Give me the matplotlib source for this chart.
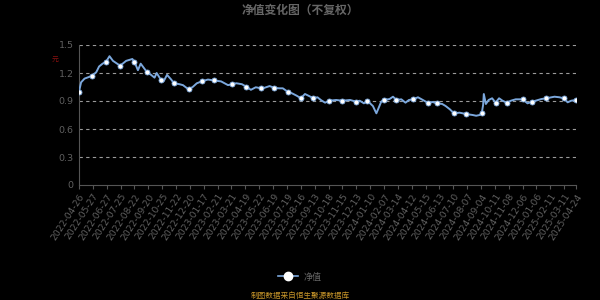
import matplotlib
matplotlib.use("Agg")
import matplotlib.pyplot as plt
from matplotlib.lines import Line2D

plt.rcParams['font.family'] = ['Noto Sans CJK SC', 'DejaVu Sans']

title = "净值变化图（不复权）"
unit_label = "元"
legend_label = "净值"
source_text = "制图数据来自恒生聚源数据库"

tick_labels = [
    "2022-04-26", "2022-05-27", "2022-06-27", "2022-07-25", "2022-08-22", "2022-09-20",
    "2022-10-25", "2022-11-22", "2022-12-20", "2023-01-17", "2023-02-21", "2023-03-21",
    "2023-04-19", "2023-05-22", "2023-06-19", "2023-07-19", "2023-08-16", "2023-09-13",
    "2023-10-18", "2023-11-15", "2023-12-13", "2024-01-10", "2024-02-07", "2024-03-14",
    "2024-04-12", "2024-05-15", "2024-06-13", "2024-07-10", "2024-08-07", "2024-09-04",
    "2024-10-11", "2024-11-08", "2024-12-06", "2025-01-06", "2025-02-11", "2025-03-11",
    "2025-04-24",
]
# trading-day index of each tick label
tick_days = [0, 20, 40, 60, 80, 100, 120, 140, 160, 180, 200, 220, 240, 260, 280, 300,
             320, 340, 360, 380, 400, 420, 440, 460, 480, 500, 520, 540, 560, 580, 600,
             620, 640, 660, 680, 700, 717]

# sampled NAV readings (trading-day index, value)
days = [0, 3, 8, 19, 25, 29, 34, 39, 44, 49, 53, 59, 63, 68, 77, 80, 85, 89, 94, 98,
        104, 109, 112, 118, 122, 127, 133, 137, 145, 150, 158, 164, 170, 177, 186, 195,
        205, 215, 221, 227, 235, 241, 248, 255, 263, 267, 275, 282, 289, 294, 301, 308,
        314, 320, 326, 332, 338, 344, 349, 355, 361, 371, 380, 391, 400, 405, 411, 416,
        424, 429, 432, 436, 440, 448, 453, 458, 465, 471, 476, 482, 489, 496, 503, 510,
        517, 524, 529, 535, 541, 549, 558, 568, 573, 578, 581, 583, 584, 587, 591, 596,
        601, 606, 611, 617, 623, 630, 640, 647, 654, 667, 674, 686, 693, 699, 705, 710,
        717]
nav = [1.00, 1.10, 1.14, 1.17, 1.21, 1.27, 1.30, 1.32, 1.38, 1.33, 1.31, 1.28, 1.30,
       1.33, 1.35, 1.32, 1.23, 1.30, 1.25, 1.21, 1.18, 1.15, 1.20, 1.13, 1.11, 1.18,
       1.13, 1.09, 1.08, 1.07, 1.025, 1.05, 1.09, 1.11, 1.13, 1.12, 1.11, 1.07, 1.08,
       1.09, 1.08, 1.055, 1.02, 1.047, 1.036, 1.04, 1.06, 1.04, 1.036, 1.036, 1.00,
       0.98, 0.957, 0.93, 0.975, 0.953, 0.93, 0.94, 0.91, 0.882, 0.903, 0.911, 0.903,
       0.911, 0.893, 0.903, 0.875, 0.903, 0.846, 0.768, 0.821, 0.893, 0.911, 0.921,
       0.946, 0.911, 0.918, 0.882, 0.911, 0.918, 0.94, 0.911, 0.882, 0.889, 0.875,
       0.868, 0.846, 0.811, 0.768, 0.775, 0.761, 0.75, 0.742, 0.75, 0.768, 0.857,
       0.975, 0.868, 0.911, 0.929, 0.882, 0.929, 0.903, 0.882, 0.903, 0.918, 0.918,
       0.875, 0.893, 0.921, 0.929, 0.946, 0.94, 0.929, 0.886, 0.903, 0.911]

yticks = [0, 0.3, 0.6, 0.9, 1.2, 1.5]

line_color = "#7ba7dc"
grid_color = "#9a9a9a"
axis_color = "#555555"
text_color = "#606060"

fig = plt.figure(figsize=(6, 3), dpi=100, facecolor="black")
ax = fig.add_axes([79 / 600, 1 - 185 / 300, (576 - 79) / 600, 140 / 300])
ax.set_facecolor("black")

# markers roughly every 20 trading days
mark_idx = []
for t in range(0, 718, 20):
    best = min(range(len(days)), key=lambda i: abs(days[i] - t))
    if best not in mark_idx:
        mark_idx.append(best)
if len(days) - 1 not in mark_idx:
    mark_idx.append(len(days) - 1)

ax.plot(days, nav, color=line_color, lw=1.4, zorder=3, solid_joinstyle="round")
ax.plot([days[i] for i in mark_idx], [nav[i] for i in mark_idx], ls="none",
        marker="o", ms=3.6, mfc="white", mec=line_color, mew=0.6, zorder=4)

ax.set_xlim(0, 717)
ax.set_ylim(0, 1.5)
ax.set_yticks(yticks)
ax.set_yticklabels(["0", "0.3", "0.6", "0.9", "1.2", "1.5"])
for y in yticks[1:]:
    ax.axhline(y, color=grid_color, lw=0.8, ls=(0, (3, 3)), zorder=1)

ax.set_xticks(tick_days)
ax.set_xticklabels(tick_labels, rotation=57, ha="right", va="top",
                   rotation_mode="anchor", fontsize=6.6, color=text_color,
                   family="DejaVu Sans")
ax.tick_params(axis="x", colors=axis_color, length=3, width=0.8, pad=2,
               labelcolor=text_color)
ax.tick_params(axis="y", length=0, pad=4, labelsize=6.8, labelcolor=text_color)
for lab in ax.get_yticklabels():
    lab.set_family("DejaVu Sans")

for s in ["top", "right"]:
    ax.spines[s].set_visible(False)
ax.spines["left"].set_color(axis_color)
ax.spines["bottom"].set_color(axis_color)
ax.spines["left"].set_linewidth(0.8)
ax.spines["bottom"].set_linewidth(0.8)

fig.text(0.5, 1 - 10 / 300, title, ha="center", va="center", fontsize=8.5,
         color="#666666", fontweight="bold")
fig.text(55.5 / 600, 1 - 60 / 300, unit_label, ha="center", va="center",
         fontsize=5, color="#8b1010")

# legend
handle = Line2D([0], [0], color=line_color, lw=1.2, marker="o", ms=6,
                mfc="white", mec="white")
leg = fig.legend([handle], [legend_label], loc="center", bbox_to_anchor=(0.5, 1 - 277 / 300),
                 frameon=False, fontsize=6.5, labelcolor="#666666", handlelength=2.2,
                 handletextpad=0.6)

fig.text(0.5, 1 - 296 / 300, source_text, ha="center", va="center", fontsize=5.5,
         color="#c8962a")

fig.savefig("out.png", dpi=100, facecolor="black")
